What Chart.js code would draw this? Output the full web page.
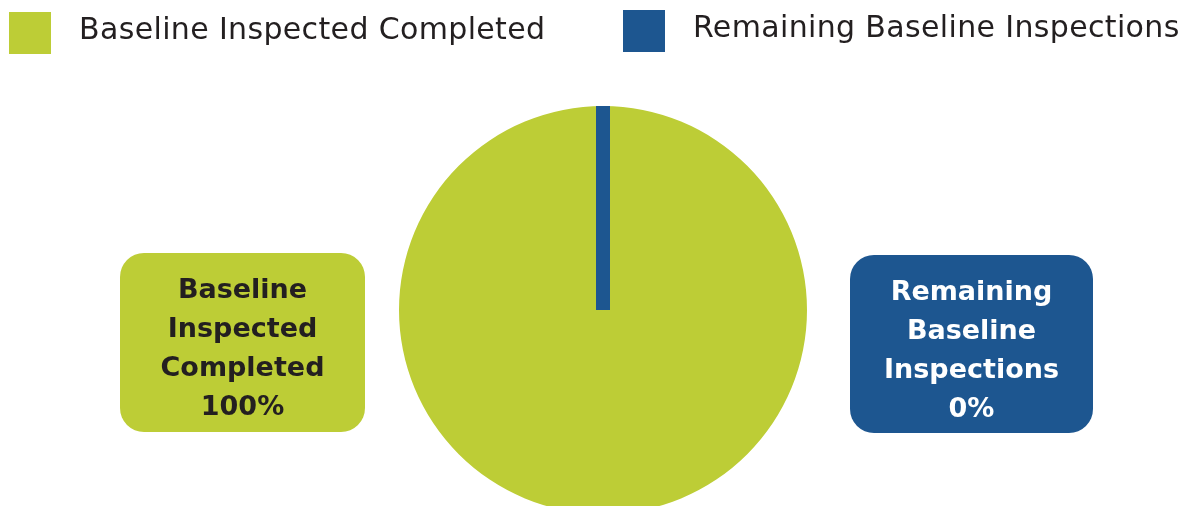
<!DOCTYPE html>
<html>
<head>
<meta charset="utf-8">
<script src="https://cdn.jsdelivr.net/npm/chart.js@4.4.1/dist/chart.umd.min.js"></script>
<style>
  html, body { margin:0; padding:0; background:#fff; overflow:hidden; width:1187px; height:506px; }
  #wrap { position:absolute; left:0; top:0; width:1187px; height:620px; }
  .legend { position:absolute; top:0; left:0; width:1187px; height:60px; font-family:"DejaVu Sans", sans-serif; }
  .legend .sw { position:absolute; width:42px; height:42px; }
  .legend .txt { position:absolute; font-size:30px; line-height:42px; color:#231f20; letter-spacing:0.35px; white-space:nowrap; }
</style>
</head>
<body>
<div id="wrap"><canvas id="pie"></canvas></div>
<div class="legend" id="legend"></div>
<script>
// inspection status
const categories = ["Baseline Inspected Completed", "Remaining Baseline Inspections"];
const percents = [100, 0];
const boxLabels = [["Baseline", "Inspected", "Completed"], ["Remaining", "Baseline", "Inspections"]];
const colors = ["#bdcd36", "#1d5690"];
const textColors = ["#231f20", "#ffffff"];

// html legend
const legendPos = [{x:9, y:12}, {x:623, y:10}];
const legend = document.getElementById("legend");
categories.forEach((c, i) => {
  const p = legendPos[i];
  legend.insertAdjacentHTML("beforeend",
    `<div class="sw" style="left:${p.x}px;top:${p.y}px;background:${colors[i]}"></div>` +
    `<div class="txt" style="left:${p.x + 70}px;top:${p.y - 4}px">${c}</div>`);
});

// zero slice still gets an angle: draw it as a thick radial stroke
const zeroSlice = {
  id: "zeroSlice",
  afterDatasetsDraw(chart) {
    const ctx = chart.ctx;
    chart.getDatasetMeta(0).data.forEach((arc, i) => {
      if (percents[i] !== 0) return;
      const a = arc.startAngle, r = arc.outerRadius;
      ctx.save();
      ctx.strokeStyle = colors[i];
      ctx.lineWidth = 14;
      ctx.lineCap = "butt";
      ctx.beginPath();
      ctx.moveTo(arc.x, arc.y);
      ctx.lineTo(arc.x + r * Math.cos(a), arc.y + r * Math.sin(a));
      ctx.stroke();
      ctx.restore();
    });
  }
};

// rounded callout boxes either side of the pie
const boxes = [{x:120, y:253, w:245, h:179}, {x:850, y:255, w:243, h:178}];
const callouts = {
  id: "callouts",
  afterDraw(chart) {
    const ctx = chart.ctx;
    boxes.forEach((b, i) => {
      ctx.save();
      ctx.fillStyle = colors[i];
      ctx.beginPath();
      ctx.roundRect(b.x, b.y, b.w, b.h, 24);
      ctx.fill();
      ctx.fillStyle = textColors[i];
      ctx.font = "bold 27px 'DejaVu Sans', sans-serif";
      ctx.textAlign = "center";
      ctx.textBaseline = "alphabetic";
      const lines = boxLabels[i].concat([percents[i] + "%"]);
      const cx = b.x + b.w / 2;
      lines.forEach((t, k) => ctx.fillText(t, cx, b.y + 45 + k * 39));
      ctx.restore();
    });
  }
};

new Chart(document.getElementById("pie"), {
  type: "pie",
  data: {
    labels: categories,
    datasets: [{ data: percents, backgroundColor: colors, borderWidth: 0 }]
  },
  options: {
    responsive: true, maintainAspectRatio: false, animation: false,
    layout: { padding: { left: 19, right: 0, top: 106, bottom: 106 } },
    plugins: { legend: { display: false }, tooltip: { enabled: false } }
  },
  plugins: [zeroSlice, callouts]
});
</script>
</body>
</html>
